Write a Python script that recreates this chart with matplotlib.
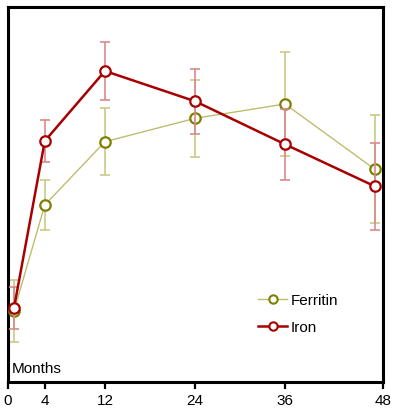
import numpy as np
import matplotlib
matplotlib.use("Agg")
import matplotlib.pyplot as plt
from matplotlib.lines import Line2D

plt.rcParams['font.family'] = ['Liberation Sans', 'DejaVu Sans']

# ---- data ----
months = [0.65, 4, 12, 24, 36, 47]
iron = [74, 241, 311, 280.7, 237.7, 195.7]
iron_err = [21, 21.3, 29, 32.2, 35.4, 43.2]
ferritin = [71, 177, 240.3, 263.7, 278, 212.7]
ferritin_err = [31, 24.7, 33.3, 38.7, 51.9, 54]
tick_values = [0, 4, 12, 24, 36, 48]
tick_labels = ["0", "4", "12", "24", "36", "48"]

# non-uniform axis spacing (as in the reference)
scale_src = np.array([0, 4, 12, 24, 36, 48], dtype=float)
scale_dst = np.array([8, 44.7, 104.7, 194.7, 284.3, 382], dtype=float)

def fwd(x):
    return np.interp(x, scale_src, scale_dst)

def inv(x):
    return np.interp(x, scale_dst, scale_src)

W, H = 398, 410
fig = plt.figure(figsize=(W / 100, H / 100), dpi=100)
ax = fig.add_axes([8 / W, (H - 383) / H, (383 - 8) / W, (383 - 8) / H])

ax.set_xscale('function', functions=(fwd, inv))
ax.set_xlim(0, 48.1)
ax.set_ylim(0, 375)

iron_c = '#a80000'
iron_e = '#d98a8a'
fer_c = '#7f7f00'
fer_line = '#bdbd70'
fer_e = '#c9c987'

# Ferritin
ax.errorbar(months, ferritin, yerr=ferritin_err, fmt='none', ecolor=fer_e,
            elinewidth=1.2, capsize=3.6, capthick=1.2, zorder=2)
ax.plot(months, ferritin, color=fer_line, lw=1.0, zorder=3)
ax.plot(months, ferritin, ls='none', marker='o', ms=7.5, mfc='white',
        mec=fer_c, mew=1.6, zorder=4)

# Iron
ax.errorbar(months, iron, yerr=iron_err, fmt='none', ecolor=iron_e,
            elinewidth=1.2, capsize=3.6, capthick=1.2, zorder=5)
ax.plot(months, iron, color=iron_c, lw=1.8, zorder=6)
ax.plot(months, iron, ls='none', marker='o', ms=7.5, mfc='white',
        mec=iron_c, mew=1.6, zorder=7)

for s in ax.spines.values():
    s.set_linewidth(2.2)
    s.set_color('black')

ax.set_xticks(tick_values)
ax.set_xticklabels(tick_labels)
ax.set_yticks([])
ax.tick_params(axis='x', direction='out', length=5, width=1.6, pad=3,
               labelsize=11, colors='black')
ax.xaxis.set_minor_locator(matplotlib.ticker.NullLocator())

ax.text(12 / W, 1 - 373 / H, "Months", transform=fig.transFigure,
        fontsize=11, va='baseline', ha='left')

handles = [
    Line2D([], [], color=fer_line, lw=1.0, marker='o', ms=6, mfc='white',
           mec=fer_c, mew=1.5),
    Line2D([], [], color=iron_c, lw=1.8, marker='o', ms=6, mfc='white',
           mec=iron_c, mew=1.5),
]
fig.legend(handles, ["Ferritin", "Iron"], loc='upper left',
           bbox_to_anchor=(258 / W, 1 - 294 / H), bbox_transform=fig.transFigure,
           frameon=False, fontsize=11, handlelength=1.9, handletextpad=0.25,
           labelspacing=0.85, borderpad=0, borderaxespad=0)

fig.savefig("out.png", dpi=100)
